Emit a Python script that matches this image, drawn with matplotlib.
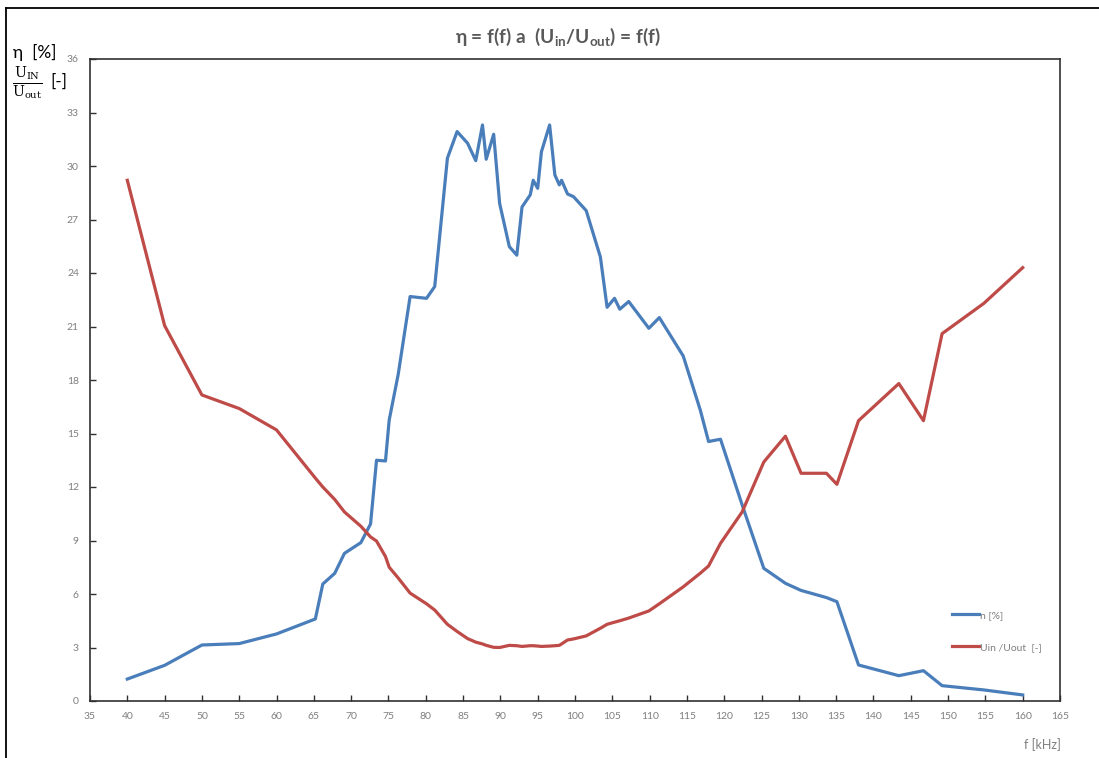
import matplotlib
matplotlib.use("Agg")
import matplotlib.pyplot as plt
from matplotlib.lines import Line2D

# Frequency points [kHz]
freq_khz = [40, 45, 50, 55, 60, 65.2, 66.2, 67.8, 69.1, 71.3, 72.6, 73.4, 74.6, 75.1,
            76.3, 77.9, 80.1, 81.2, 82.9, 84.2, 85.6, 86.7, 87.6, 88.1, 89.1, 89.9,
            91.2, 92.2, 92.9, 94.0, 94.4, 95.0, 95.5, 96.6, 97.3, 97.9, 98.2, 99.0,
            99.8, 101.5, 103.4, 104.3, 105.3, 106.0, 107.2, 109.9, 111.3, 114.5,
            116.8, 117.9, 119.5, 122.4, 125.3, 128.2, 130.3, 133.7, 135.1, 138.0,
            143.4, 146.7, 149.2, 154.8, 160]

# Efficiency [%]
efficiency = [1.23, 2.0, 3.14, 3.22, 3.76, 4.6, 6.56, 7.16, 8.28, 8.88, 9.93, 13.5, 13.46, 15.76,
              18.3, 22.68, 22.58, 23.24, 30.44, 31.93, 31.28, 30.3, 32.3, 30.38, 31.78, 27.9,
              25.48, 25.0, 27.7, 28.38, 29.2, 28.75, 30.8, 32.3, 29.5, 28.94, 29.2, 28.43,
              28.28, 27.5, 24.9, 22.08, 22.58, 21.97, 22.4, 20.9, 21.5, 19.35,
              16.3, 14.55, 14.68, 11.0, 7.44, 6.6, 6.2, 5.8, 5.57, 2.02,
              1.42, 1.7, 0.86, 0.62, 0.34]

# Voltage ratio Uin/Uout [-]
voltage_ratio = [29.2, 21.05, 17.16, 16.4, 15.2, 12.5, 12.0, 11.3, 10.6, 9.8, 9.2, 8.97, 8.1, 7.5,
                 6.9, 6.05, 5.45, 5.1, 4.3, 3.9, 3.5, 3.3, 3.2, 3.12, 3.01, 3.0,
                 3.12, 3.1, 3.06, 3.1, 3.1, 3.08, 3.06, 3.08, 3.1, 3.12, 3.2, 3.42,
                 3.48, 3.65, 4.08, 4.3, 4.42, 4.5, 4.65, 5.05, 5.45, 6.4,
                 7.17, 7.57, 8.84, 10.6, 13.4, 14.85, 12.77, 12.77, 12.15, 15.72,
                 17.8, 15.72, 20.6, 22.3, 24.3]

x_ticks = list(range(35, 166, 5))
y_ticks = list(range(0, 37, 3))

plt.rcParams['font.family'] = ['Lato', 'DejaVu Sans']
plt.rcParams['mathtext.fontset'] = 'custom'
plt.rcParams['mathtext.rm'] = 'Lato'
plt.rcParams['mathtext.bf'] = 'Lato:bold'

BLUE = '#4a7ebb'
RED = '#be4b48'
GRAY = '#7f7f7f'
TITLE_GRAY = '#595959'

fig = plt.figure(figsize=(10.99, 7.58), dpi=100)
ax = fig.add_axes([90 / 1099, 57 / 758, 970 / 1099, 642 / 758])

ax.plot(freq_khz, efficiency, color=BLUE, lw=2.3, label='n [%]', solid_joinstyle='round')
ax.plot(freq_khz, voltage_ratio, color=RED, lw=2.3, label='Uin /Uout  [-]', solid_joinstyle='round')

ax.set_xlim(35, 165)
ax.set_ylim(0, 36)
ax.set_xticks(x_ticks)
ax.set_yticks(y_ticks)
ax.tick_params(direction='in', length=4, width=1, color='#303030',
               labelsize=7.5, labelcolor=GRAY, pad=8)
for s in ax.spines.values():
    s.set_color('#303030')
    s.set_linewidth(1.2)

leg = ax.legend(loc='upper left', bbox_to_anchor=(0.8835, 0.149), frameon=False,
                fontsize=7.5, handlelength=2.6, handletextpad=0.1,
                labelspacing=2.2, borderpad=0)
for t in leg.get_texts():
    t.set_color(GRAY)

# Title
fig.text(0.508, 1 - 37 / 758,
         r'η = f(f) a  (U$_{\mathbf{in}}$/U$_{\mathbf{out}}$) = f(f)',
         ha='center', va='center', fontsize=13.8, fontweight='bold',
         color=TITLE_GRAY, math_fontfamily='custom')

# Y-axis labels
fig.text(13 / 1099, 1 - 52 / 758, 'η  [%]', ha='left', va='center', fontsize=12.5, color='black')
fig.text(12 / 1099, 1 - 83 / 758, r'$\frac{\mathrm{U_{IN}}}{\mathrm{U_{out}}}$',
         ha='left', va='center', fontsize=14.5, color='black', math_fontfamily='dejavuserif')
fig.text(50 / 1099, 1 - 82 / 758, '[-]', ha='left', va='center', fontsize=12.5, color='black')

# X-axis label
fig.text(1042 / 1099, 1 - 745 / 758, 'f [kHz]', ha='center', va='center',
         fontsize=9, color=GRAY)

# Outer frame edges
fig.add_artist(Line2D([6 / 1099, 1.0], [1 - 8 / 758, 1 - 8 / 758],
                      transform=fig.transFigure, color='black', lw=1.3))
fig.add_artist(Line2D([6 / 1099, 6 / 1099], [0.0, 1 - 8 / 758],
                      transform=fig.transFigure, color='black', lw=1.3))

fig.savefig('out.png', dpi=100)
